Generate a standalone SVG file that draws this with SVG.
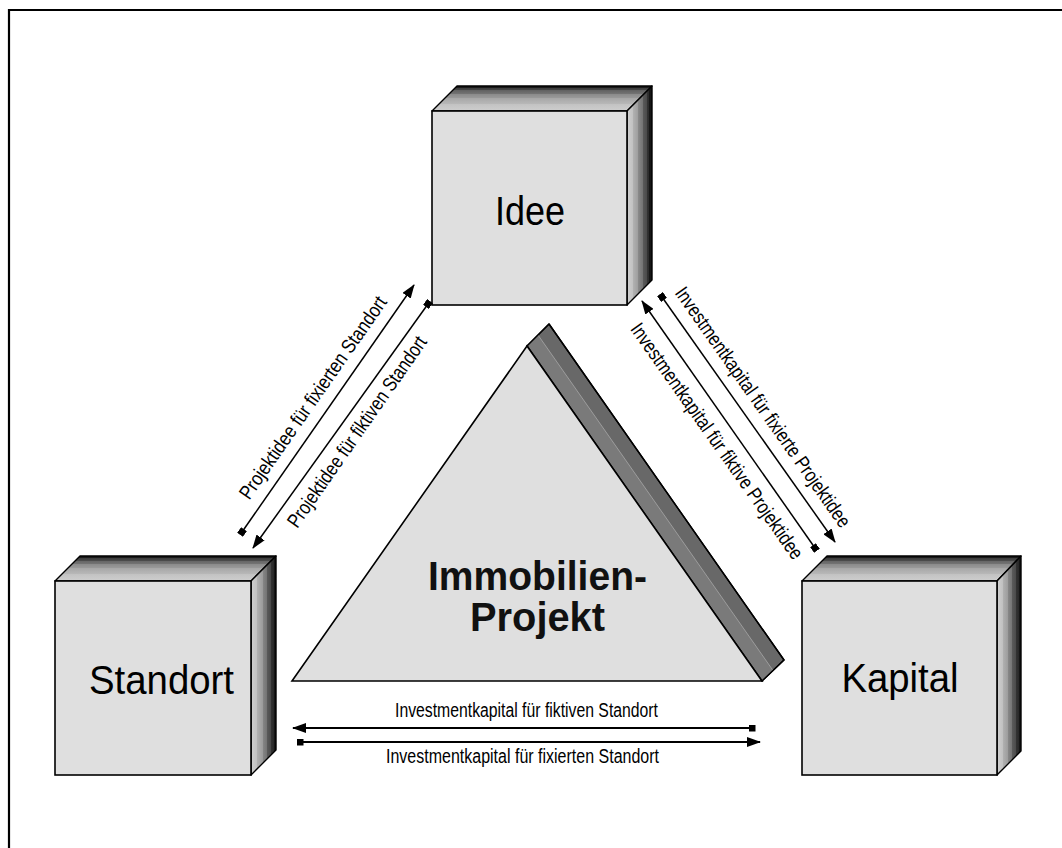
<svg xmlns="http://www.w3.org/2000/svg" width="1062" height="848" viewBox="0 0 1062 848">
  <style>
    .face { fill: #dfdfdf; stroke: #000; stroke-width: 1.6; }
    .top { fill: url(#topGrad); stroke: #000; stroke-width: 1.4; stroke-linejoin: round; }
    .side { fill: url(#sideGrad); stroke: #000; stroke-width: 1.4; stroke-linejoin: round; }
    .box-label { font-family: "Liberation Sans", Arial, sans-serif; font-size: 40px; fill: #000; text-anchor: middle; }
    .title { font-family: "Liberation Sans", Arial, sans-serif; font-size: 40px; font-weight: bold; fill: #111; text-anchor: middle; }
    .flow { stroke: #000; stroke-width: 1.5; fill: none; marker-start: url(#sq); marker-end: url(#arr); }
    .flow-h { stroke-width: 2; }
    .lbl { font-family: "Liberation Sans", Arial, sans-serif; font-size: 20px; fill: #000; text-anchor: middle; }
  </style>
  <defs>
    <!-- banded shading for the cube tops (dark at the back edge, light at the front) -->
    <linearGradient id="topGrad" x1="0" y1="0" x2="0" y2="1">
      <stop offset="0" stop-color="#1a1a1a"/>
      <stop offset="0.08" stop-color="#1a1a1a"/>
      <stop offset="0.08" stop-color="#3c3c3c"/>
      <stop offset="0.18" stop-color="#4a4a4a"/>
      <stop offset="0.18" stop-color="#636363"/>
      <stop offset="0.32" stop-color="#747474"/>
      <stop offset="0.32" stop-color="#8a8a8a"/>
      <stop offset="0.5" stop-color="#9c9c9c"/>
      <stop offset="0.5" stop-color="#a8a8a8"/>
      <stop offset="0.72" stop-color="#b8b8b8"/>
      <stop offset="0.72" stop-color="#c2c2c2"/>
      <stop offset="1" stop-color="#cecece"/>
    </linearGradient>
    <!-- banded shading for the cube sides (light at the front, dark at the back) -->
    <linearGradient id="sideGrad" x1="0" y1="0" x2="1" y2="0">
      <stop offset="0" stop-color="#d0d0d0"/>
      <stop offset="0.26" stop-color="#c0c0c0"/>
      <stop offset="0.26" stop-color="#b0b0b0"/>
      <stop offset="0.46" stop-color="#9c9c9c"/>
      <stop offset="0.46" stop-color="#888"/>
      <stop offset="0.64" stop-color="#737373"/>
      <stop offset="0.64" stop-color="#5a5a5a"/>
      <stop offset="0.8" stop-color="#4a4a4a"/>
      <stop offset="0.8" stop-color="#333"/>
      <stop offset="0.9" stop-color="#2a2a2a"/>
      <stop offset="0.9" stop-color="#161616"/>
      <stop offset="1" stop-color="#161616"/>
    </linearGradient>
    <marker id="arr" markerUnits="userSpaceOnUse" viewBox="0 0 14 10" markerWidth="14" markerHeight="10" refX="13" refY="5" orient="auto">
      <path d="M0,0 L14,5 L0,10 Z" fill="#000"/>
    </marker>
    <marker id="sq" markerUnits="userSpaceOnUse" viewBox="0 0 7 7" markerWidth="7" markerHeight="7" refX="3.5" refY="3.5" orient="auto">
      <rect x="0" y="0" width="7" height="7" fill="#000"/>
    </marker>
  </defs>

  <!-- frame -->
  <path d="M9,848 V10 H1062" fill="none" stroke="#000" stroke-width="2.2"/>

  <!-- central triangle with extruded edge -->
  <g id="projekt">
    <polygon points="527,346 549,324 784,660 762,681" fill="#686868" stroke="#000" stroke-width="1.4" stroke-linejoin="round"/>
    <polygon points="527,346 538,335 773,670.5 762,681" fill="#7a7a7a"/>
    <line x1="538" y1="335" x2="773" y2="670.5" stroke="#9c9c9c" stroke-width="1"/>
    <polygon points="527,346 549,324 784,660 762,681" fill="none" stroke="#000" stroke-width="1.4" stroke-linejoin="round"/>
    <polygon points="527,346 292,681 762,681" class="face"/>
    <text class="title" x="537.5" y="590" textLength="219" lengthAdjust="spacingAndGlyphs">Immobilien-</text>
    <text class="title" x="537.5" y="631" textLength="135" lengthAdjust="spacingAndGlyphs">Projekt</text>
  </g>

  <!-- Idee -->
  <g id="idee">
    <polygon class="top" points="432,111 457,86 652,86 627,111"/>
    <polygon class="side" points="627,111 652,86 652,280 627,305"/>
    <rect class="face" x="432" y="111" width="195" height="194"/>
    <text class="box-label" x="530" y="225" textLength="70" lengthAdjust="spacingAndGlyphs">Idee</text>
  </g>

  <!-- Standort -->
  <g id="standort">
    <polygon class="top" points="55,581 80,556 276,556 251,581"/>
    <polygon class="side" points="251,581 276,556 276,750 251,775"/>
    <rect class="face" x="55" y="581" width="196" height="194"/>
    <text class="box-label" x="161.5" y="694" textLength="145" lengthAdjust="spacingAndGlyphs">Standort</text>
  </g>

  <!-- Kapital -->
  <g id="kapital">
    <polygon class="top" points="802,581 827,556 1021,556 997,581"/>
    <polygon class="side" points="997,581 1021,556 1021,751 997,775"/>
    <rect class="face" x="802" y="581" width="195" height="194"/>
    <text class="box-label" x="900" y="692" textLength="117" lengthAdjust="spacingAndGlyphs">Kapital</text>
  </g>

  <!-- connectors -->
  <g id="connectors">
    <line class="flow" x1="242" y1="532" x2="414" y2="285"/>
    <line class="flow" x1="428" y1="304" x2="253" y2="548"/>
    <line class="flow" x1="662" y1="297" x2="835" y2="542"/>
    <line class="flow" x1="815" y1="548" x2="642" y2="301"/>
    <line class="flow flow-h" x1="752" y1="728" x2="293" y2="728"/>
    <line class="flow flow-h" x1="300" y1="742" x2="760" y2="742"/>

    <text class="lbl" transform="translate(318.5,401.5) rotate(-55.1)" textLength="242" lengthAdjust="spacingAndGlyphs">Projektidee für fixierten Standort</text>
    <text class="lbl" transform="translate(362.5,435.5) rotate(-55.1)" textLength="228" lengthAdjust="spacingAndGlyphs">Projektidee für fiktiven Standort</text>
    <text class="lbl" transform="translate(757.5,411) rotate(54.8)" textLength="289" lengthAdjust="spacingAndGlyphs">Investmentkapital für fixierte Projektidee</text>
    <text class="lbl" transform="translate(711.5,445) rotate(54.8)" textLength="284" lengthAdjust="spacingAndGlyphs">Investmentkapital für fiktive Projektidee</text>
    <text class="lbl" x="526.5" y="717" textLength="263" lengthAdjust="spacingAndGlyphs">Investmentkapital für fiktiven Standort</text>
    <text class="lbl" x="522.5" y="763" textLength="273" lengthAdjust="spacingAndGlyphs">Investmentkapital für fixierten Standort</text>
  </g>
</svg>
